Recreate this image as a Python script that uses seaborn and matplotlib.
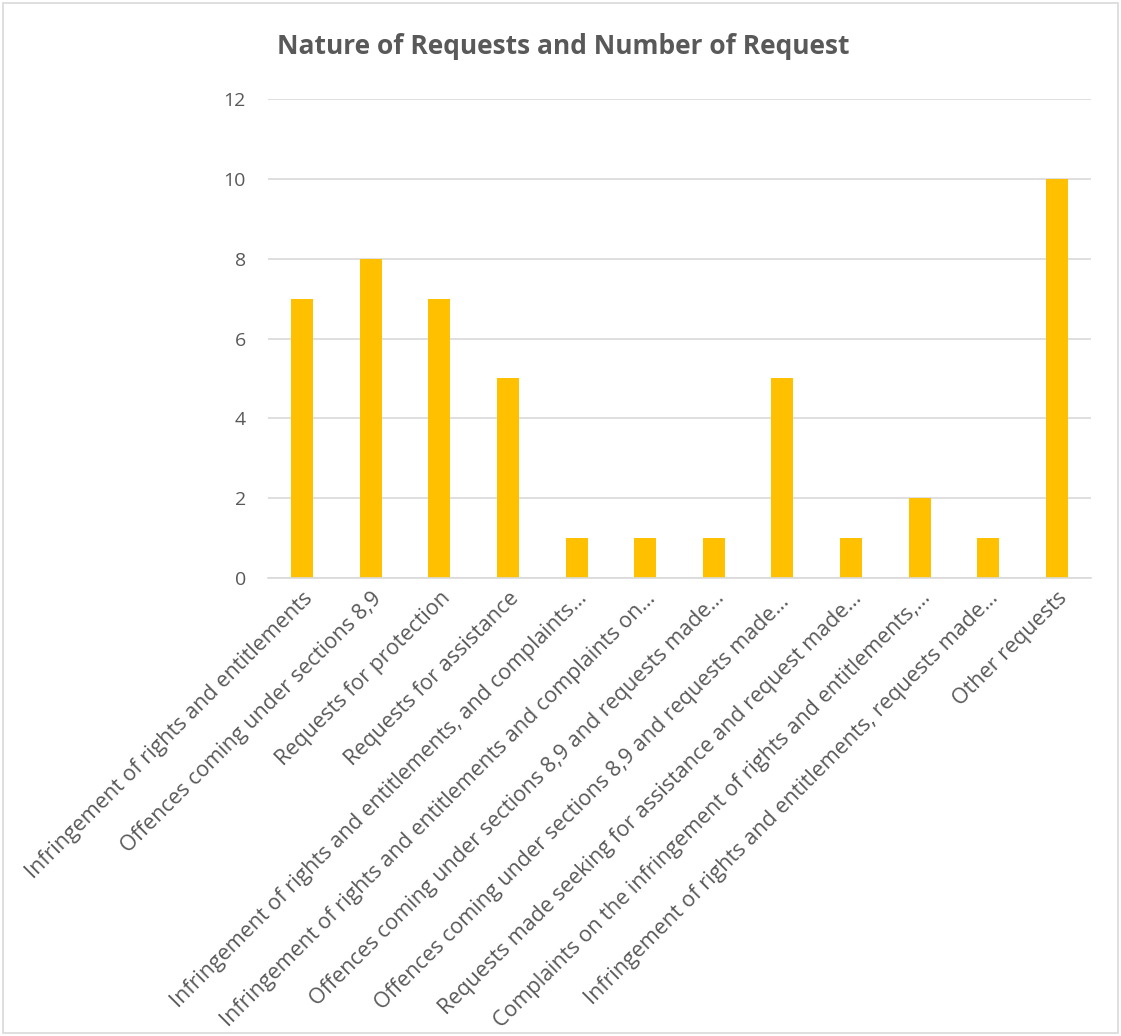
import matplotlib
matplotlib.use("Agg")
import matplotlib.pyplot as plt
import seaborn as sns
import pandas as pd
from matplotlib.patches import Rectangle

categories = [
    "Infringement of rights and entitlements",
    "Offences coming under sections 8,9",
    "Requests for protection",
    "Requests for assistance",
    "Infringement of rights and entitlements, and complaints…",
    "Infringement of rights and entitlements and complaints on…",
    "Offences coming under sections 8,9 and requests made…",
    "Offences coming under sections 8,9 and requests made… ",
    "Requests made seeking for assistance and request made…",
    "Complaints on the infringement of rights and entitlements,…",
    "Infringement of rights and entitlements, requests made…",
    "Other requests",
]
values = [7, 8, 7, 5, 1, 1, 1, 5, 1, 2, 1, 10]
yticks = [0, 2, 4, 6, 8, 10, 12]

sns.set_theme(style="white")
plt.rcParams['font.family'] = ['Open Sans', 'DejaVu Sans']

df = pd.DataFrame({"cat": categories, "val": values})

fig = plt.figure(figsize=(11.21, 10.36), dpi=100)
ax = fig.add_axes([268/1121, 1 - 578/1036, (1091-268)/1121, (578-99)/1036])
sns.barplot(data=df, x="cat", y="val", color="#FFC000", saturation=1, width=0.32,
            linewidth=0, ax=ax)

ax.set_ylim(0, 12)
ax.set_xlim(-0.5, len(categories) - 0.5)
ax.set_yticks(yticks)
ax.set_yticklabels([str(t) for t in yticks], color="#595959", fontsize=14)
ax.yaxis.grid(True, color="#D9D9D9", linewidth=1.2)
ax.set_axisbelow(True)
for s in ["top", "right", "left"]:
    ax.spines[s].set_visible(False)
ax.spines["bottom"].set_color("#D9D9D9")
ax.spines["bottom"].set_linewidth(1.2)
ax.tick_params(axis="y", length=0, pad=16)
ax.tick_params(axis="x", length=0, pad=7)
ax.set_xticks(range(len(categories)))
ax.set_xticklabels(categories, rotation=45, ha="right", rotation_mode="anchor",
                   color="#595959", fontsize=15.5)
ax.set_xlabel("")
ax.set_ylabel("")

fig.text(563/1121, 1 - 47/1036, "Nature of Requests and Number of Request",
         ha="center", va="center", fontsize=19, fontweight="bold", color="#595959")

fig.patches.append(Rectangle((3/1121, 3/1036), 1 - 6/1121, 1 - 6/1036,
                             transform=fig.transFigure, fill=False,
                             edgecolor="#D9D9D9", linewidth=1.2))

fig.savefig("out.png", dpi=100)
